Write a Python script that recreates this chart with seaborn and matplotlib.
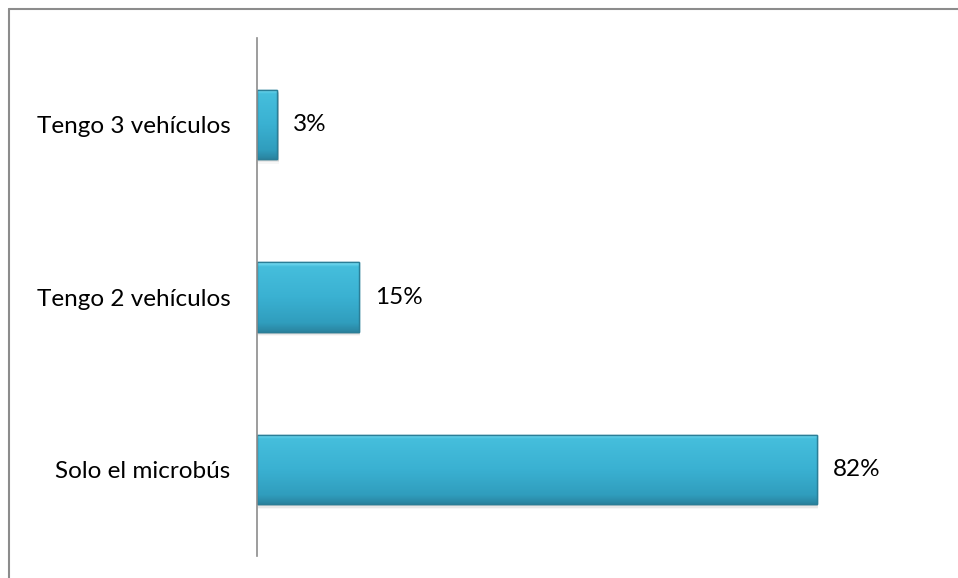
import matplotlib
matplotlib.use("Agg")
import matplotlib.pyplot as plt
import numpy as np
import pandas as pd
import seaborn as sns
from matplotlib.patches import Rectangle
from matplotlib.lines import Line2D
from matplotlib.colors import LinearSegmentedColormap

categories = ["Tengo 3 vehículos", "Tengo 2 vehículos", "Solo el microbús"]
values = [3, 15, 82]
value_labels = ["3%", "15%", "82%"]

df = pd.DataFrame({"categoria": categories, "pct": values})

sns.set_theme(style="white")
plt.rcParams["font.family"] = ["Lato", "DejaVu Sans"]

fig = plt.figure(figsize=(9.58, 5.78), dpi=100)
W, H = 958, 578
ax = fig.add_axes([257 / W, 1 - 556 / H, 683 / W, 518 / H])

sns.barplot(data=df, y="categoria", x="pct", orient="h", ax=ax,
            color="#38AECF", width=0.4, edgecolor="#2A859F", linewidth=1.0,
            saturation=1)

ax.set_xlim(0, 100)
ax.set_ylim(2.5, -0.5)

# glossy shading on each bar
grad = np.linspace(0, 1, 64).reshape(-1, 1)
cmap = LinearSegmentedColormap.from_list(
    "bevel", [(0.0, "#7FE3F7"), (0.06, "#45BEDC"), (0.5, "#3AB1D2"),
              (0.88, "#309DBD"), (1.0, "#2A84A0")])
for p in list(ax.patches):
    x0, y0 = p.get_x(), p.get_y()
    w, h = p.get_width(), p.get_height()
    # soft drop shadow
    for k, a in enumerate([0.10, 0.06, 0.03]):
        sh = Rectangle((x0 + 0.15, y0 + 0.012 + 0.008 * k), w, h,
                       facecolor="#000000", alpha=a, edgecolor="none",
                       zorder=p.get_zorder() - 0.5)
        ax.add_patch(sh)
    im = ax.imshow(grad, extent=(x0, x0 + w, y0 + h, y0), aspect="auto",
                   cmap=cmap, zorder=p.get_zorder() + 0.1)
    im.set_clip_path(p)
    edge = Rectangle((x0, y0), w, h, facecolor="none", edgecolor="#2A7E97",
                     linewidth=1.0, zorder=p.get_zorder() + 0.2)
    ax.add_patch(edge)

for i, (v, lab) in enumerate(zip(values, value_labels)):
    ax.text(v + 2.3, i, lab, va="center", ha="left", fontsize=17.5,
            color="#000000")

ax.set_xlabel("")
ax.set_ylabel("")
ax.set_xticks([])
ax.tick_params(axis="y", length=0, pad=19, labelsize=17.5, labelcolor="#000000")
for s in ["top", "right", "bottom"]:
    ax.spines[s].set_visible(False)
ax.spines["left"].set_color("#8C8C8C")
ax.spines["left"].set_linewidth(1.2)

# outer chart frame
fig.add_artist(Line2D([8.5 / W, 8.5 / W], [0, 1 - 8.5 / H], color="#8C8C8C",
                      linewidth=1.5, transform=fig.transFigure))
fig.add_artist(Line2D([8.5 / W, 1], [1 - 8.5 / H, 1 - 8.5 / H], color="#8C8C8C",
                      linewidth=1.5, transform=fig.transFigure))

fig.savefig("out.png", dpi=100, facecolor="white")
